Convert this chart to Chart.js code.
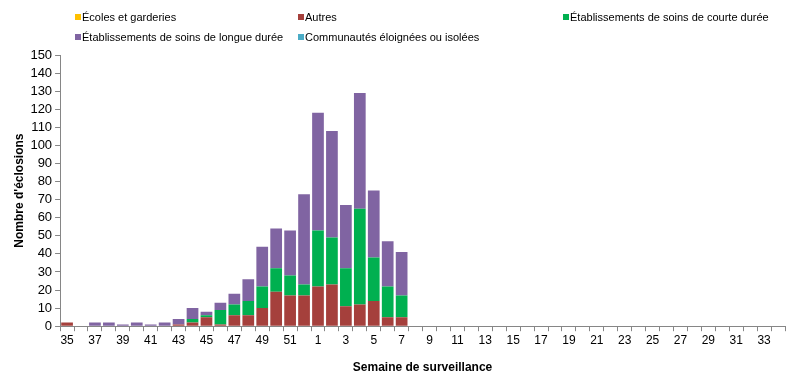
<!DOCTYPE html>
<html>
<head>
<meta charset="utf-8">
<script src="https://cdn.jsdelivr.net/npm/chart.js@4/dist/chart.umd.min.js"></script>
<style>
    body { margin: 0; background: #fff; }
    #wrap { position: relative; width: 793px; height: 378px; }
    #legend { position: absolute; left: 0; top: 0; font: 11px "Liberation Sans", Arial, sans-serif; color: #000; }
    .item { position: absolute; white-space: nowrap; }
    .box { display: inline-block; width: 6px; height: 6px; margin-right: 1px; vertical-align: 1px; }
</style>
</head>
<body>
<div id="wrap">
    <canvas id="chart" width="793" height="378"></canvas>
    <div id="legend"></div>
</div>
<script>
// weeks 35-52 then 1-34
const weeks = [];
for (let w = 35; w <= 52; w++) weeks.push(String(w));
for (let w = 1; w <= 34; w++) weeks.push(String(w));

const seriesNames = [
    "Écoles et garderies",
    "Autres",
    "Établissements de soins de courte durée",
    "Établissements de soins de longue durée",
    "Communautés éloignées ou isolées"
];
const seriesColors = ["#FFC000", "#A5403C", "#00B050", "#8064A2", "#4BACC6"];

const ecoles = [];
const autres = [2,0,0,0,0,0,0,0,1,2,5,1,6,6,10,19,17,17,22,23,11,12,14,5,5];
const courte = [0,0,0,0,0,0,0,0,0,2,1,8,6,8,12,13,11,6,31,26,21,53,24,17,12];
const longue = [0,0,2,2,1,2,1,2,3,6,2,4,6,12,22,22,25,50,65,59,35,64,37,25,24];
const communautes = [];

const seriesData = [ecoles, autres, courte, longue, communautes];

const legendLeft = [75, 298, 563];
const legendTop = [11, 31];

document.addEventListener("DOMContentLoaded", function () {
    const ctx = document.getElementById("chart").getContext("2d");

    const datasets = seriesNames.map((name, i) => ({
        label: name,
        data: weeks.map((w, j) => seriesData[i][j] || 0),
        backgroundColor: seriesColors[i],
        borderWidth: 0,
        barPercentage: 0.84,
        categoryPercentage: 1.0
    }));

    const chart = new Chart(ctx, {
        type: "bar",
        data: { labels: weeks, datasets },
        options: {
            responsive: false,
            animation: false,
            layout: { padding: { top: 55, right: 8, left: 8, bottom: 0 } },
            plugins: {
                legend: { display: false },
                tooltip: { enabled: false }
            },
            scales: {
                x: {
                    stacked: true,
                    grid: { drawOnChartArea: false, tickLength: 5, color: "#868686", offset: true },
                    border: { color: "#868686" },
                    ticks: {
                        autoSkip: false,
                        maxRotation: 0,
                        color: "#000",
                        padding: 2,
                        font: { family: "Liberation Sans", size: 12 },
                        callback: function (v, i) { return i % 2 === 0 ? weeks[i] : ""; }
                    },
                    title: {
                        display: true,
                        text: "Semaine de surveillance",
                        color: "#000",
                        font: { family: "Liberation Sans", size: 12, weight: "bold" },
                        padding: { top: 11, bottom: 3 }
                    }
                },
                y: {
                    stacked: true,
                    min: 0,
                    max: 150,
                    grid: { drawOnChartArea: false, tickLength: 5, color: "#868686" },
                    border: { color: "#868686" },
                    ticks: {
                        stepSize: 10,
                        autoSkip: false,
                        color: "#000",
                        padding: 3,
                        font: { family: "Liberation Sans", size: 13 }
                    },
                    title: {
                        display: true,
                        text: "Nombre d'éclosions",
                        color: "#000",
                        font: { family: "Liberation Sans", size: 12, weight: "bold" },
                        padding: { bottom: 1 }
                    }
                }
            }
        }
    });

    // legend laid out in a 3-column grid like the original
    const legend = document.getElementById("legend");
    chart.data.datasets.forEach((ds, i) => {
        const item = document.createElement("div");
        item.className = "item";
        item.style.left = legendLeft[i % 3] + "px";
        item.style.top = legendTop[Math.floor(i / 3)] + "px";
        item.innerHTML = '<span class="box" style="background:' + ds.backgroundColor + '"></span>' + ds.label;
        legend.appendChild(item);
    });
});
</script>
</body>
</html>
